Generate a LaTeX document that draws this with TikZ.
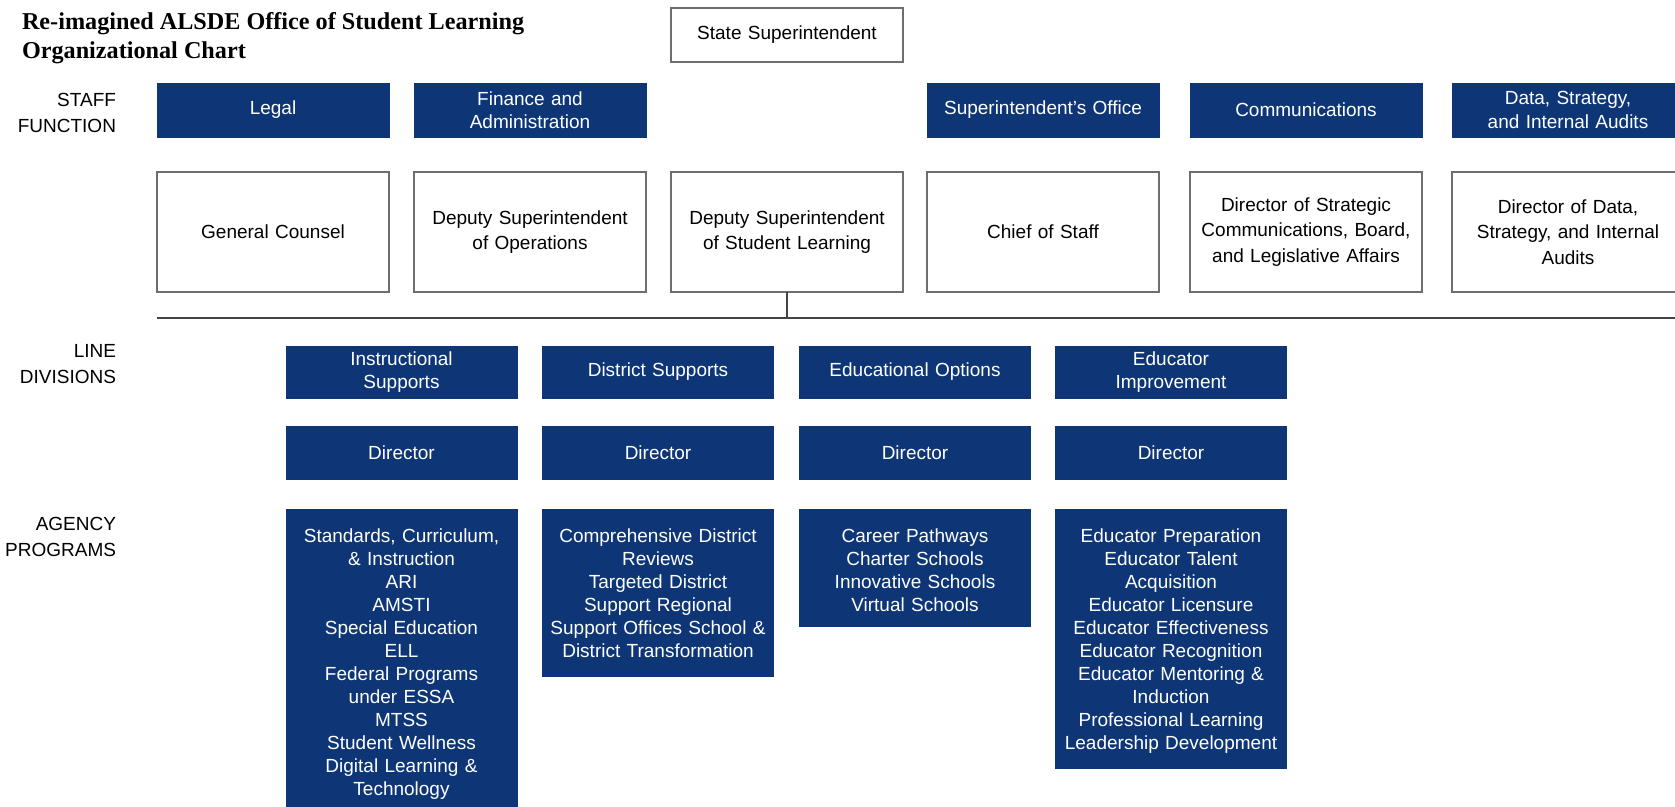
\documentclass[tikz,border=0pt]{standalone}
\usepackage{fontspec}
\setmainfont{Liberation Sans}
\newfontfamily\titlefont{Liberation Serif}
\definecolor{navy}{HTML}{0E3677}
\definecolor{boxline}{HTML}{6E6E6E}
\definecolor{conn}{HTML}{444444}
\begin{document}
\begin{tikzpicture}[x=1pt,y=-1pt,
  every node/.style={inner sep=0pt, outer sep=0pt},
  whitebox/.style={draw=boxline, line width=1.1pt, fill=white, minimum width=232pt, minimum height=120pt,
    text width=222pt, align=center, font=\fontsize{19}{25.5}\selectfont},
  topbox/.style={whitebox, minimum height=54pt},
  staffbox/.style={fill=navy, draw=navy, line width=0.8pt, minimum width=232pt, minimum height=54pt,
    text width=222pt, align=center, text=white, font=\fontsize{19}{23.5}\selectfont},
  divbox/.style={staffbox, minimum width=231pt, minimum height=52pt},
  dirbox/.style={staffbox, minimum width=231pt, minimum height=53pt},
  progbase/.style={fill=navy, draw=navy, line width=0.8pt, minimum width=231pt, text width=225pt,
    align=center, text=white, inner ysep=14pt, anchor=north, font=\fontsize{19}{23}\selectfont,
    execute at begin node={\rule{0pt}{19pt}}},
  progbox/.style={progbase, execute at end node={\rule[-5pt]{0pt}{5pt}}},
  shortprog/.style={progbase, execute at end node={\rule[-1pt]{0pt}{1pt}}},
  sidelabel/.style={anchor=east, align=right, font=\fontsize{19}{26}\selectfont},
  connector/.style={draw=conn, line width=1.6pt}
]
\useasboundingbox (0,0) rectangle (1675,806);

% title
\node[anchor=north west, align=left, font=\titlefont\bfseries\fontsize{24.2}{29.5}\selectfont] (title) at (22,12)
  {Re-imagined ALSDE Office of Student Learning\\Organizational Chart};

% top
\node[topbox] (state) at (787,35) {State Superintendent};

% side labels
\node[sidelabel] (lblstaff) at (116,113) {STAFF\\FUNCTION};
\node[sidelabel] (lblline) at (116,364.5) {LINE\\DIVISIONS};
\node[sidelabel] (lblagency) at (116,537) {AGENCY\\PROGRAMS};

% staff functions
\node[staffbox] (legal) at (273,110) {Legal};
\node[staffbox] (finance) at (530,110) {Finance and\\Administration};
\node[staffbox] (supoffice) at (1043,110) {Superintendent's Office};
\node[staffbox] (comms) at (1306,110) {Communications};
\node[staffbox] (data) at (1568,110) {Data, Strategy,\\and Internal Audits};

% leaders
\node[whitebox] (counsel) at (273,232) {General Counsel};
\node[whitebox] (depops) at (530,232) {Deputy Superintendent\\of Operations};
\node[whitebox] (depsl) at (787,232) {Deputy Superintendent\\of Student Learning};
\node[whitebox] (chief) at (1043,232) {Chief of Staff};
\node[whitebox] (dircomm) at (1306,232) {Director of Strategic\\Communications, Board,\\and Legislative Affairs};
\node[whitebox] (dirdata) at (1568,232) {Director of Data,\\Strategy, and Internal\\Audits};

% horizontal rule and link
\coordinate (hleft) at (157,318);
\coordinate (hright) at (1675,318);
\coordinate (hmid) at (787,318);
\draw[connector] (hleft) -- (hright);
\draw[connector] (depsl.south) -- (hmid);

% line divisions
\node[divbox] (instr) at (401.5,372) {Instructional\\Supports};
\node[divbox] (district) at (658,372) {District Supports};
\node[divbox] (eduopt) at (915,372) {Educational Options};
\node[divbox] (eduimp) at (1171,372) {Educator\\Improvement};

% directors
\node[dirbox] (dir1) at (401.5,452.5) {Director};
\node[dirbox] (dir2) at (658,452.5) {Director};
\node[dirbox] (dir3) at (915,452.5) {Director};
\node[dirbox] (dir4) at (1171,452.5) {Director};

% programs
\node[progbox] (prog1) at (401.5,509) {Standards, Curriculum,\\\& Instruction\\ARI\\AMSTI\\Special Education\\ELL\\Federal Programs\\under ESSA\\MTSS\\Student Wellness\\Digital Learning \&\\Technology};
\node[progbox] (prog2) at (658,509) {Comprehensive District\\Reviews\\Targeted District\\Support Regional\\Support Offices School \&\\District Transformation};
\node[shortprog] (prog3) at (915,509) {Career Pathways\\Charter Schools\\Innovative Schools\\Virtual Schools};
\node[progbox] (prog4) at (1171,509) {Educator Preparation\\Educator Talent\\Acquisition\\Educator Licensure\\Educator Effectiveness\\Educator Recognition\\Educator Mentoring \&\\Induction\\Professional Learning\\Leadership Development};
\end{tikzpicture}
\end{document}
